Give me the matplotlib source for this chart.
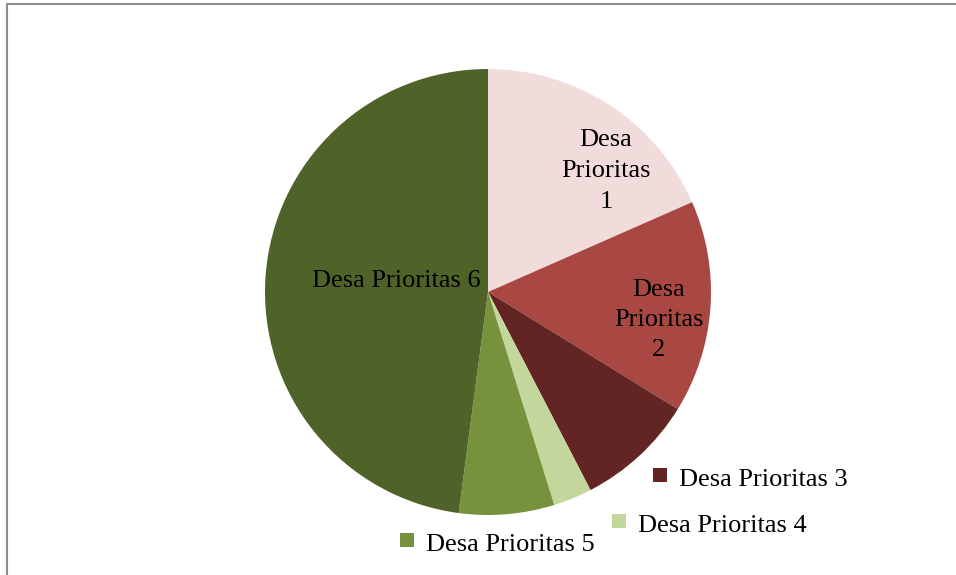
import matplotlib.pyplot as plt
from matplotlib.patches import Rectangle

# share of each priority village group (percent)
labels = ["Desa Prioritas 1", "Desa Prioritas 2", "Desa Prioritas 3",
          "Desa Prioritas 4", "Desa Prioritas 5", "Desa Prioritas 6"]
values = [18.4, 15.4, 8.6, 2.8, 6.9, 47.9]
colors = ["#F2DCDB", "#A94743", "#632523", "#C3D69B", "#76923C", "#4F6228"]

W, H = 956, 575
fig = plt.figure(figsize=(W / 100, H / 100), dpi=100)
ax = fig.add_axes([0, 0, 1, 1])
ax.set_xlim(0, W)
ax.set_ylim(0, H)
ax.axis("off")

# y measured from top in the picture -> flip
def py(y):
    return H - y

wedges, _ = ax.pie(values, colors=colors, startangle=90, counterclock=False,
                   center=(488, py(292)), radius=223,
                   wedgeprops=dict(linewidth=0))
ax.set_xlim(0, W)
ax.set_ylim(0, H)
ax.set_aspect("auto")

font = dict(family=["Liberation Serif", "DejaVu Serif"], fontsize=19, color="black")

# labels inside the slices
ax.text(606, py(171), "Desa\nPrioritas\n1", ha="center", va="center",
        linespacing=1.5, **font)
ax.text(659, py(320), "Desa\nPrioritas\n2", ha="center", va="center",
        linespacing=1.5, **font)
ax.text(396, py(281), labels[5], ha="center", va="center", **font)

# outside labels with a colour key (square top-left, in picture pixels)
outside = {2: (653, 468), 3: (612, 514), 4: (400, 533)}
for i, (x, y) in outside.items():
    ax.add_patch(Rectangle((x, py(y + 14)), 14, 14, color=colors[i], lw=0))
    ax.text(x + 26, py(y + 18), labels[i], ha="left", va="baseline", **font)

# chart frame
ax.add_patch(Rectangle((7, -10), W, py(4) + 10, fill=False,
                       edgecolor="#8e8e8e", linewidth=1.5))

fig.savefig("out.png", dpi=100)
